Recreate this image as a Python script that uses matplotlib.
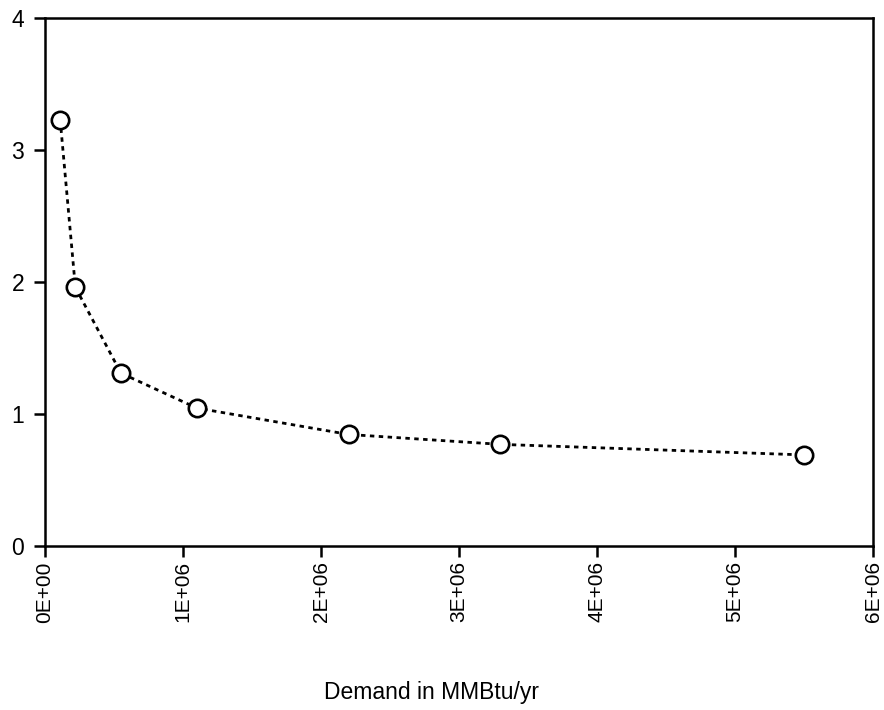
import matplotlib
matplotlib.use("Agg")
import matplotlib.pyplot as plt

# data
demand = [1.1e5, 2.2e5, 5.5e5, 1.1e6, 2.2e6, 3.3e6, 5.5e6]
cost = [3.23, 1.96, 1.31, 1.045, 0.845, 0.77, 0.69]
xticks = [0, 1e6, 2e6, 3e6, 4e6, 5e6, 6e6]
xtick_labels = ["0E+00", "1E+06", "2E+06", "3E+06", "4E+06", "5E+06", "6E+06"]
yticks = [0, 1, 2, 3, 4]

plt.rcParams["font.family"] = ["Liberation Sans", "DejaVu Sans"]

fig = plt.figure(figsize=(8.84, 7.1), dpi=100)
ax = fig.add_axes([45 / 884, 1 - 546 / 710, 828 / 884, 528 / 710])

ax.plot(demand, cost, linestyle=(0, (1.6, 1.6)), color="black", lw=2.0,
        marker="o", markersize=12.5, markerfacecolor="white",
        markeredgecolor="black", markeredgewidth=1.9)

ax.set_xlim(0, 6e6)
ax.set_ylim(0, 4)
ax.set_xticks(xticks)
ax.set_xticklabels(xtick_labels, rotation=90)
ax.set_yticks(yticks)

for s in ax.spines.values():
    s.set_linewidth(1.8)
ax.tick_params(direction="out", length=8, width=1.8)
ax.tick_params(axis="x", labelsize=15, pad=3)
ax.tick_params(axis="y", labelsize=16.5, pad=7)

fig.text(431 / 884, 1 - 693 / 710, "Demand in MMBtu/yr", ha="center", va="center", fontsize=16.5)

fig.savefig("out.png", dpi=100)
